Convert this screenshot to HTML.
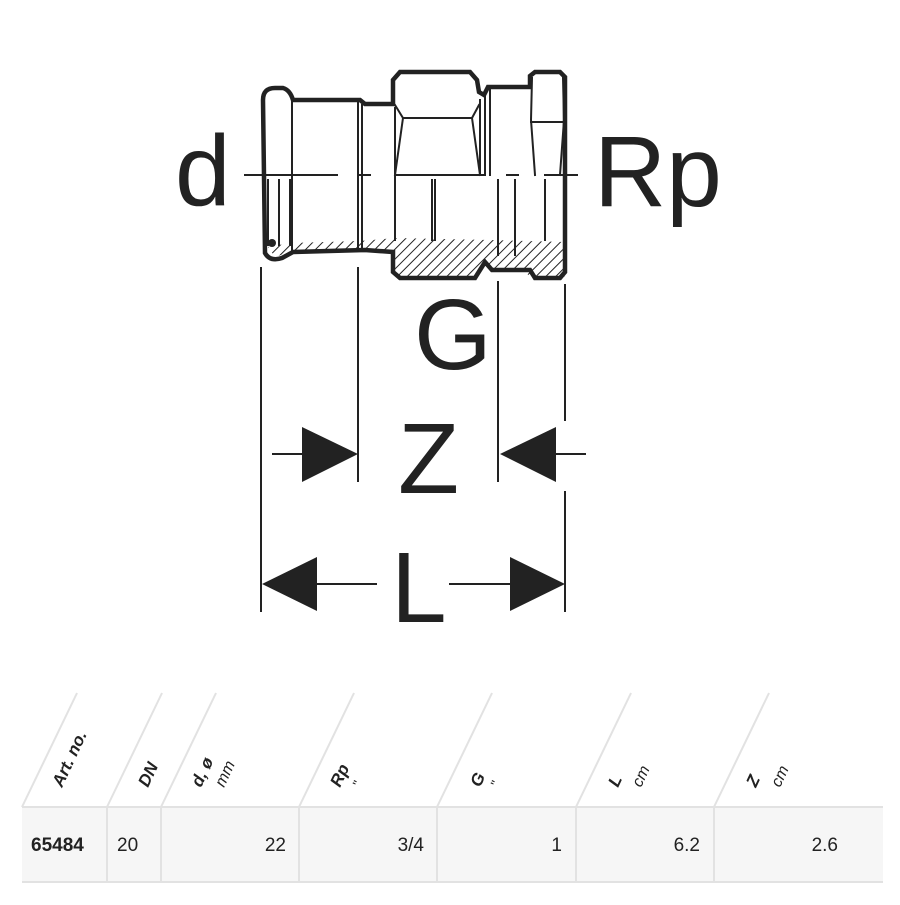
<!DOCTYPE html>
<html><head><meta charset="utf-8"><style>
body{margin:0;background:#fff;width:900px;height:900px;overflow:hidden;font-family:"Liberation Sans",sans-serif}
</style></head><body>
<svg width="900" height="900" viewBox="0 0 900 900" xmlns="http://www.w3.org/2000/svg">
<defs>
<pattern id="h" width="7" height="7" patternUnits="userSpaceOnUse" patternTransform="rotate(45)">
<line x1="0" y1="0" x2="0" y2="7" stroke="#222" stroke-width="2"/>
</pattern>
</defs>
<g stroke="#222" fill="none" stroke-linecap="square">
<path d="M268 247 L290 243 L360 241 L395 238 L490 240 L565 242 L565 277 L530 277 L524 270 L490 270 L484 262 L476 277 L397 277 L393 265 L395 250 L360 250 L290 252 L275 257 Z" fill="url(#h)" stroke="none"/>
<path d="M265 253 L263 100 Q263 88 275 88 L283 88 Q290 90 293 100 L360 100 L365 104 L393 104 L393 80 L400 72 L470 72 L477 80 L479 92 L484 95 L488 87 L530 87 L530 76 L535 72 L560 72 L565 77 L565 272 L560 278 L535 278 L530 270 L492 270 L485 262 L480 270 L475 278 L400 278 L393 272 L393 252 L365 250 L293 252 L282 258 Q270 262 265 253 Z" stroke-width="4.5"/>
<g stroke-width="2">
<line x1="292" y1="101" x2="292" y2="250"/>
<line x1="358" y1="103" x2="358" y2="248"/>
<line x1="362" y1="105" x2="362" y2="248"/>
<line x1="395" y1="108" x2="395" y2="240"/>
<path d="M395 105 L403 118 L472 118 L479 105"/>
<line x1="403" y1="118" x2="395" y2="175"/>
<line x1="472" y1="118" x2="480" y2="175"/>
<line x1="480" y1="100" x2="480" y2="175"/>
<line x1="485" y1="95" x2="485" y2="175"/>
<line x1="490" y1="90" x2="490" y2="175"/>
<path d="M532 78 L531 120 L535 175"/>
<path d="M563 78 L564 120 L560 175"/>
<line x1="531" y1="122" x2="564" y2="122"/>
<line x1="268" y1="180" x2="268" y2="245"/>
<line x1="279" y1="180" x2="279" y2="245"/>
<line x1="290" y1="180" x2="290" y2="245"/>
<line x1="432" y1="180" x2="432" y2="240"/>
<line x1="435" y1="180" x2="435" y2="240"/>
<line x1="498" y1="180" x2="498" y2="255"/>
<line x1="515" y1="180" x2="515" y2="255"/>
<line x1="545" y1="180" x2="545" y2="240"/>
<path d="M245 175 L337 175 M358 175 L370 175 M395 175 L485 175 M507 175 L518 175 M545 175 L577 175"/>
<line x1="261" y1="268" x2="261" y2="611"/>
<line x1="358" y1="268" x2="358" y2="481"/>
<line x1="498" y1="282" x2="498" y2="481"/>
<line x1="565" y1="285" x2="565" y2="420"/>
<line x1="565" y1="492" x2="565" y2="611"/>
<line x1="273" y1="454" x2="302" y2="454"/>
<line x1="556" y1="454" x2="585" y2="454"/>
<line x1="317" y1="584" x2="376" y2="584"/>
<line x1="450" y1="584" x2="510" y2="584"/>
</g>
<circle cx="272" cy="243" r="4" fill="#222" stroke="none"/>
</g>
<g fill="#222">
<polygon points="302,427 358,454 302,482"/>
<polygon points="556,427 500,454 556,482"/>
<polygon points="317,557 262,584 317,611"/>
<polygon points="510,557 565,584 510,611"/>
</g>
<g font-family="Liberation Sans, sans-serif" font-size="100" fill="#222">
<text x="175" y="205">d</text>
<text x="594" y="206">Rp</text>
<text x="414" y="369">G</text>
<text x="398" y="493">Z</text>
<text x="391" y="622">L</text>
</g>
<rect x="22" y="807" width="861" height="75" fill="#f6f6f6"/>
<g stroke="#e2e2e2" stroke-width="2" fill="none">
<line x1="22" y1="807" x2="883" y2="807"/>
<line x1="22" y1="882" x2="883" y2="882"/>
<line x1="107" y1="807" x2="107" y2="882"/>
<line x1="161" y1="807" x2="161" y2="882"/>
<line x1="299" y1="807" x2="299" y2="882"/>
<line x1="437" y1="807" x2="437" y2="882"/>
<line x1="576" y1="807" x2="576" y2="882"/>
<line x1="714" y1="807" x2="714" y2="882"/>
<line x1="22" y1="807" x2="77" y2="693"/>
<line x1="107" y1="807" x2="162" y2="693"/>
<line x1="161" y1="807" x2="216" y2="693"/>
<line x1="299" y1="807" x2="354" y2="693"/>
<line x1="437" y1="807" x2="492" y2="693"/>
<line x1="576" y1="807" x2="631" y2="693"/>
<line x1="714" y1="807" x2="769" y2="693"/>
</g>
<g font-family="Liberation Sans, sans-serif" font-size="17" fill="#222">
<text transform="translate(62,788) rotate(-65)" font-weight="bold" font-style="italic">Art. no.</text>
<text transform="translate(148,788) rotate(-65)" font-weight="bold" font-style="italic">DN</text>
<text transform="translate(201,788) rotate(-65)" font-weight="bold" font-style="italic">d, ø</text>
<text transform="translate(224,788) rotate(-65)" font-style="italic" font-size="16">mm</text>
<text transform="translate(340,788) rotate(-65)" font-weight="bold" font-style="italic">Rp</text>
<text transform="translate(361,788) rotate(-65)" font-size="14">"</text>
<text transform="translate(480,788) rotate(-65)" font-weight="bold" font-style="italic">G</text>
<text transform="translate(499,788) rotate(-65)" font-size="14">"</text>
<text transform="translate(618,788) rotate(-65)" font-weight="bold" font-style="italic">L</text>
<text transform="translate(641,788) rotate(-65)" font-style="italic" font-size="16">cm</text>
<text transform="translate(756,788) rotate(-65)" font-weight="bold" font-style="italic">Z</text>
<text transform="translate(780,788) rotate(-65)" font-style="italic" font-size="16">cm</text>
</g>
<g font-family="Liberation Sans, sans-serif" font-size="19" fill="#222">
<text x="31" y="851" font-weight="bold">65484</text>
<text x="117" y="851">20</text>
<text x="286" y="851" text-anchor="end">22</text>
<text x="424" y="851" text-anchor="end">3/4</text>
<text x="562" y="851" text-anchor="end">1</text>
<text x="700" y="851" text-anchor="end">6.2</text>
<text x="838" y="851" text-anchor="end">2.6</text>
</g>
</svg>
</body></html>
